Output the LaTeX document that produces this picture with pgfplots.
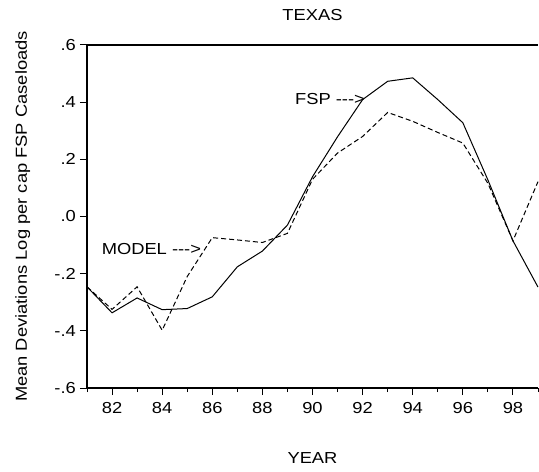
\documentclass[border=0pt]{standalone}
\usepackage{pgfplots}
\pgfplotsset{compat=1.18}
\usepackage{fontspec}
\setmainfont{Liberation Sans}[FakeStretch=1.15]
\begin{document}
\begin{tikzpicture}[font=\fontsize{16}{19}\selectfont]
\useasboundingbox (-87bp,-84bp) rectangle (452bp,388bp);
\begin{axis}[
  at={(0,0)}, anchor=south west,
  scale only axis, width=451bp, height=343bp,
  xmin=81, xmax=99, ymin=-0.6, ymax=0.6,
  axis x line*=box, axis y line*=left,
  x axis line style={-}, y axis line style={-},
  axis line style={line width=1.6bp},
  xtick pos=bottom, ytick pos=left,
  tick align=outside,
  major tick length=7bp, minor tick length=4bp,
  every tick/.style={black, line width=1bp},
  xtick={82,84,86,88,90,92,94,96,98},
  xticklabels={82,84,86,88,90,92,94,96,98},
  minor xtick={81,83,85,87,89,91,93,95,97,99},
  ytick={-0.6,-0.4,-0.2,0,0.2,0.4,0.6},
  yticklabels={-.6,-.4,-.2,.0,.2,.4,.6},
  xticklabel style={inner sep=0pt, anchor=north, yshift=-7bp},
  yticklabel style={inner sep=0pt, anchor=east, xshift=-4bp},
  clip=false,
]
\addplot[black, line width=1bp] coordinates {
(81,-0.246) (82,-0.337) (83,-0.285) (84,-0.326) (85,-0.322) (86,-0.281)
(87,-0.176) (88,-0.121) (89,-0.030) (90,0.139) (91,0.279) (92,0.409)
(93,0.473) (94,0.485) (95,0.409) (96,0.328) (97,0.128) (98,-0.085) (99,-0.247)
};
\addplot[black, line width=1bp, dash pattern=on 5bp off 3bp] coordinates {
(81,-0.246) (82,-0.325) (83,-0.246) (84,-0.398) (85,-0.21) (86,-0.074)
(87,-0.082) (88,-0.091) (89,-0.059) (90,0.13) (91,0.222) (92,0.28)
(93,0.364) (94,0.333) (95,0.294) (96,0.257) (97,0.116) (98,-0.085) (99,0.122)
};
\node[anchor=east, inner sep=0pt] at (axis cs:92.1,0.412) {FSP -\kern0pt-\kern0pt-\kern0pt>};
\node[anchor=east, inner sep=0pt] at (axis cs:85.56,-0.114) {MODEL -\kern0pt-\kern0pt-\kern0pt>};
\end{axis}
\node[anchor=base] at (225.5bp,367bp) {TEXAS};
\node[anchor=base] at (225.5bp,-75bp) {YEAR};
\node[rotate=90, anchor=base] at (-60bp,171.5bp) {Mean Deviations Log per cap FSP Caseloads};
\end{tikzpicture}
\end{document}
